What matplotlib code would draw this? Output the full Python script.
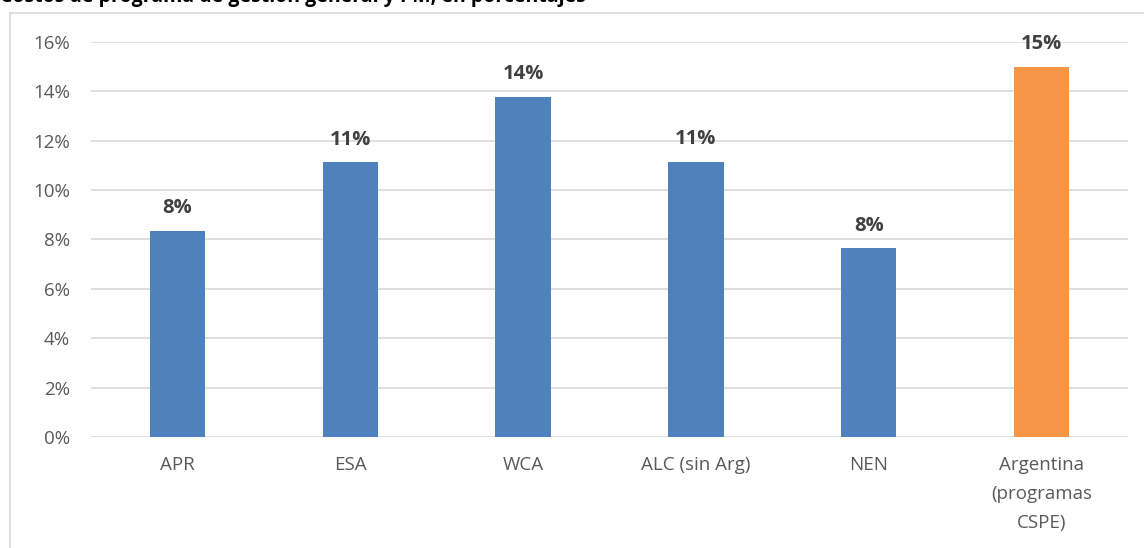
import matplotlib.pyplot as plt
from matplotlib.lines import Line2D
from matplotlib.ticker import FuncFormatter

# Data
categories = ['APR', 'ESA', 'WCA', 'ALC (sin Arg)', 'NEN', 'Argentina\n(programas\nCSPE)']
values = [8.35, 11.12, 13.78, 11.15, 7.65, 15.0]
labels = ['8%', '11%', '14%', '11%', '8%', '15%']
colors = ['#4f81bd', '#4f81bd', '#4f81bd', '#4f81bd', '#4f81bd', '#f79646']
title = 'Costos de programa de gestión general y PM, en porcentajes'

plt.rcParams['font.family'] = ['Open Sans', 'DejaVu Sans']

fig = plt.figure(figsize=(11.44, 5.48), dpi=100)
ax = fig.add_axes([0.0795, 0.2026, 0.9065, 0.7208])

x = range(len(categories))
ax.bar(x, values, width=0.32, color=colors, zorder=3)
for xi, v, lab in zip(x, values, labels):
    ax.annotate(lab, (xi, v), xytext=(0, 9), textcoords='offset points',
                ha='center', va='bottom', fontsize=14.5, fontweight='bold',
                color='#404040')

ax.set_ylim(0, 16)
ax.set_xlim(-0.5, len(categories) - 0.5)
ax.set_yticks(range(0, 17, 2))
ax.yaxis.set_major_formatter(FuncFormatter(lambda v, p: f'{v:.0f}%'))
ax.set_xticks(list(x))
ax.set_xticklabels(categories, linespacing=1.78)
ax.tick_params(axis='both', length=0, labelsize=13.5, labelcolor='#595959')
ax.tick_params(axis='x', pad=14)
ax.tick_params(axis='y', pad=15)
ax.grid(axis='y', color='#d9d9d9', linewidth=1.2, zorder=0)
for s in ax.spines.values():
    s.set_visible(False)

# outer chart frame (cut off on the right/bottom)
fx = 10 / 1144
fy = 1 - 13 / 548
fig.add_artist(Line2D([fx, fx], [0, fy], color='#d9d9d9', linewidth=1.2))
fig.add_artist(Line2D([fx, 1], [fy, fy], color='#d9d9d9', linewidth=1.2))

# title, mostly cropped off at the top edge as in the source
fig.text(0.0, 1 - 2 / 548, title, ha='left', va='baseline',
         fontsize=14, fontweight='bold', color='black')

fig.savefig('out.png', dpi=100)
